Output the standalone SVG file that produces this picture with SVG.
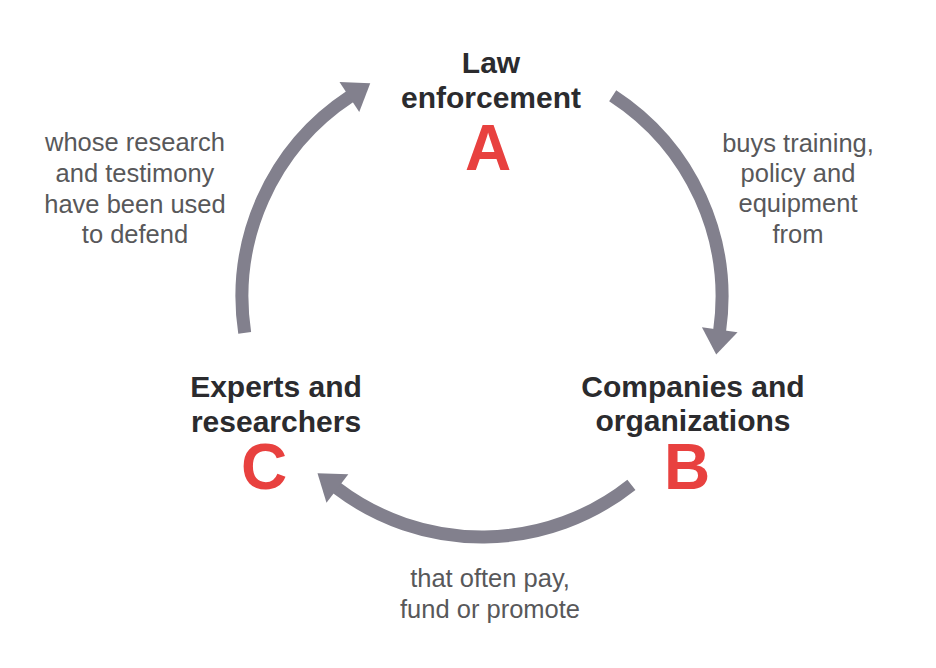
<svg xmlns="http://www.w3.org/2000/svg" width="936" height="668" viewBox="0 0 936 668">
<style>
.title{font-family:"Liberation Sans",Arial,sans-serif;font-weight:bold;font-size:30px;fill:#2b2b2e;text-anchor:middle}
.letter{font-family:"Liberation Sans",Arial,sans-serif;font-weight:bold;font-size:64px;fill:#e8413f;text-anchor:middle}
.label{font-family:"Liberation Sans",Arial,sans-serif;font-size:25.5px;fill:#58585a;text-anchor:middle}
.arc{fill:none;stroke:#82808d;stroke-width:13;stroke-linecap:butt}
</style>
<defs>
<marker id="head" markerUnits="userSpaceOnUse" viewBox="-2 -19 28 38" markerWidth="28" markerHeight="38" refX="0" refY="0" orient="auto">
<path d="M-1,-18 L24,0 L-1,18 Z" fill="#82808d"/>
</marker>
</defs>
<rect width="936" height="668" fill="#ffffff"/>
<g id="connectors">
<path class="arc" d="M612.7,95.7 A240,240 0 0 1 719.6,330.8" marker-end="url(#head)"/>
<path class="arc" d="M631.4,484.8 A240,240 0 0 1 336.6,487.9" marker-end="url(#head)"/>
<path class="arc" d="M244.7,332.9 A240,240 0 0 1 350.2,96.4" marker-end="url(#head)"/>
</g>
<g id="node-a">
<text class="title" x="491" y="73">Law</text>
<text class="title" x="491" y="108">enforcement</text>
<text class="letter" x="488" y="170">A</text>
</g>
<g id="node-b">
<text class="title" x="693" y="397">Companies and</text>
<text class="title" x="693" y="431">organizations</text>
<text class="letter" x="687" y="489">B</text>
</g>
<g id="node-c">
<text class="title" x="276" y="397">Experts and</text>
<text class="title" x="276" y="432">researchers</text>
<text class="letter" x="264" y="489">C</text>
</g>
<g id="label-ab">
<text class="label" x="798" y="152">buys training,</text>
<text class="label" x="798" y="182">policy and</text>
<text class="label" x="798" y="212">equipment</text>
<text class="label" x="798" y="243">from</text>
</g>
<g id="label-bc">
<text class="label" x="490" y="587">that often pay,</text>
<text class="label" x="490" y="618">fund or promote</text>
</g>
<g id="label-ca">
<text class="label" x="135" y="151">whose research</text>
<text class="label" x="135" y="182">and testimony</text>
<text class="label" x="135" y="213">have been used</text>
<text class="label" x="135" y="243">to defend</text>
</g>
</svg>
